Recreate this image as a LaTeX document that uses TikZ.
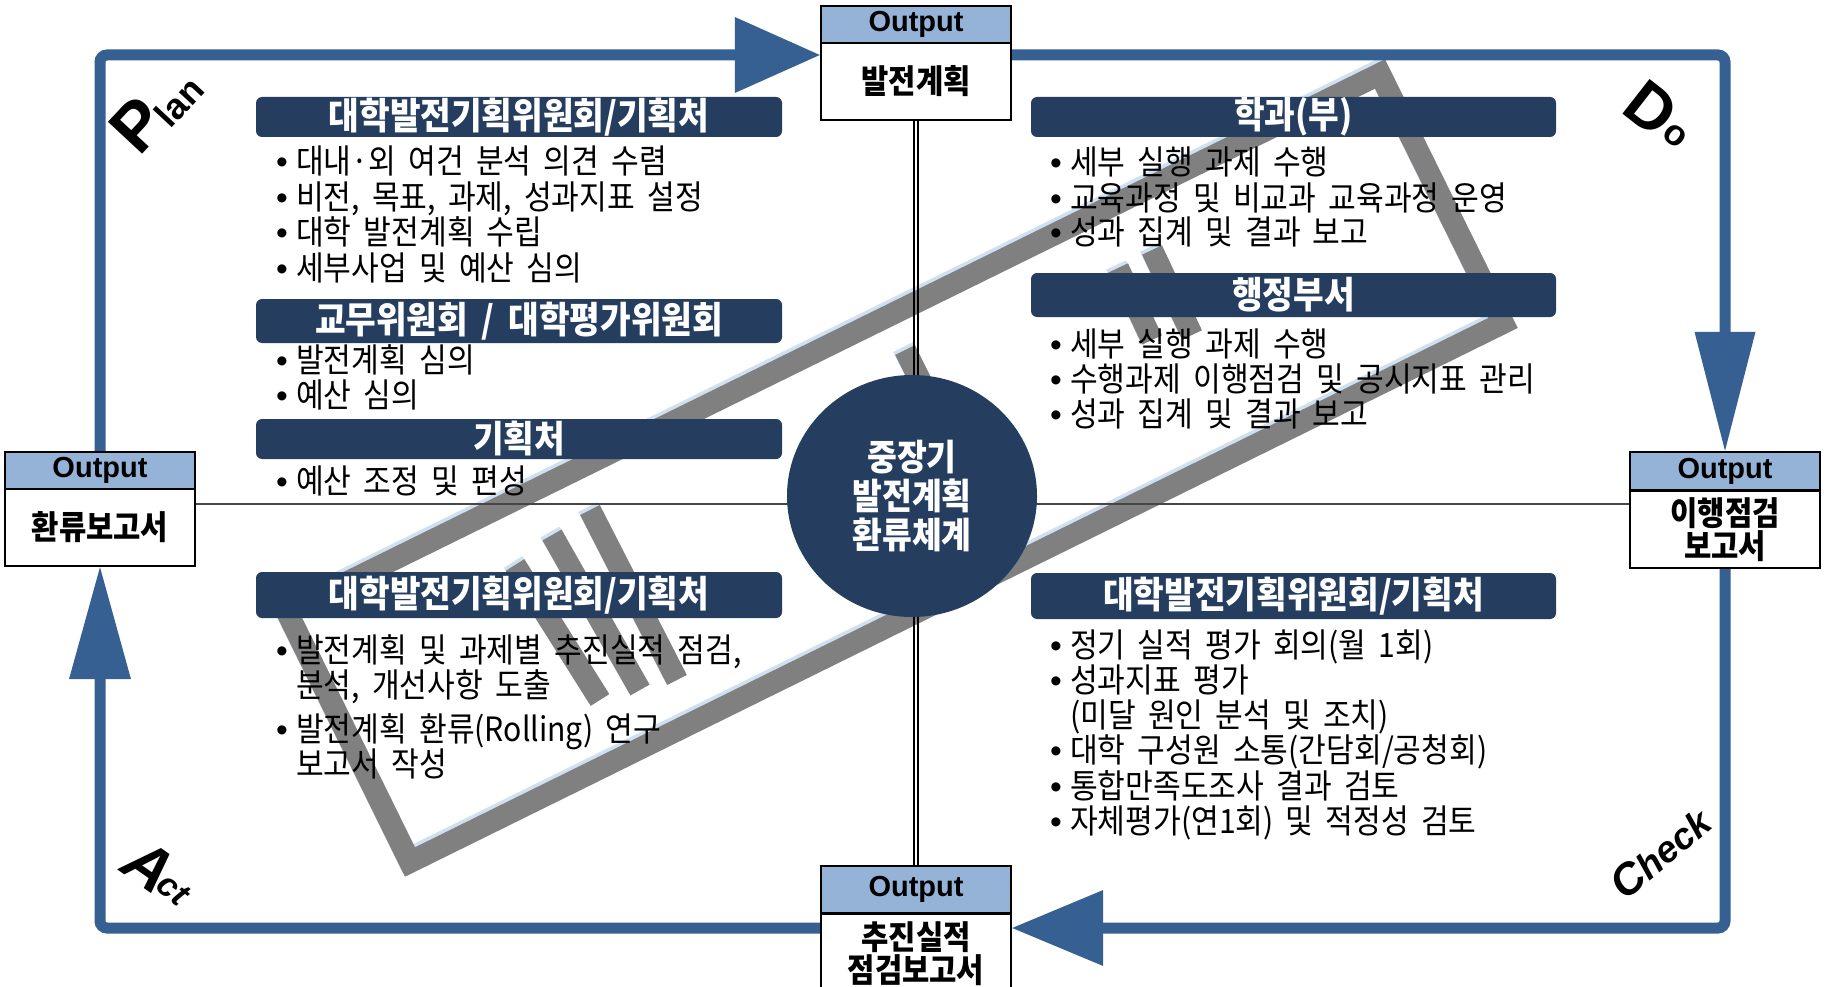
\documentclass[tikz,border=0pt]{standalone}
\usepackage{fontspec}
\setmainfont{Noto Sans CJK KR}[WordSpace=1.8, FakeStretch=0.9]
\newfontfamily\lat{Liberation Sans}
\usetikzlibrary{arrows.meta,shapes.geometric}
\definecolor{frameblue}{RGB}{54,96,146}
\definecolor{navy}{RGB}{37,62,96}
\definecolor{outblue}{RGB}{149,179,215}
\definecolor{wmgray}{RGB}{128,128,128}
\definecolor{wmglow}{RGB}{208,224,240}
\definecolor{axisgray}{RGB}{70,70,70}
\newcommand\bl[3]{\node[btext] (#1) at #2 {\makebox[20pt][l]{\lat •}#3};}
\begin{document}
\begin{tikzpicture}[x=1pt,y=-1pt,
  loopline/.style={line width=11pt, draw=frameblue, rounded corners=7pt},
  hdr/.style={rectangle, rounded corners=6pt, fill=navy, text=white, inner sep=0pt, font=\bfseries\fontsize{37}{37}\selectfont},
  btext/.style={anchor=base west, inner sep=0pt, font=\fontsize{33.5}{33.5}\selectfont},
  obox/.style={rectangle, draw=black, line width=2.4pt, fill=outblue, minimum width=190pt, inner sep=0pt, font=\lat\bfseries\fontsize{29}{29}\selectfont},
  wbox/.style={rectangle, draw=black, line width=2.4pt, fill=white, minimum width=190pt, inner sep=0pt, align=center, font=\bfseries\fontsize{33}{33}\selectfont},
  wm/.style={line width=22pt, draw=wmgray, line join=miter},
  wmg/.style={line width=22pt, draw=wmglow, line join=miter},
  hline/.style={line width=2pt, draw=axisgray},
  vline/.style={line width=1.3pt, draw=black},
  pdca/.style={inner sep=0pt},
]
\useasboundingbox (0,0) rectangle (1829,987);
\clip (0,0) rectangle (1829,987);
\fill[white] (0,0) rectangle (1829,987);

% watermark stamp
\begin{scope}[shift={(-2,-3)}]
  \draw[wmg] (410,862) -- (287,612) -- (1380,74) -- (1503,323) -- cycle;
  \draw[wmg] (515,565) -- (600,700);
  \draw[wmg] (552,535) -- (640,690);
  \draw[wmg] (590,510) -- (677,680);
  \draw[wmg] (1118,268) -- (1152,340);
  \draw[wmg] (1152,250) -- (1192,335);
  \draw[wmg] (905,350) -- (950,440);
\end{scope}
\draw[wm] (410,862) -- (287,612) -- (1380,74) -- (1503,323) -- cycle;
\draw[wm] (515,565) -- (600,700);
\draw[wm] (552,535) -- (640,690);
\draw[wm] (590,510) -- (677,680);
\draw[wm] (1118,268) -- (1152,340);
\draw[wm] (1152,250) -- (1192,335);
\draw[wm] (905,350) -- (950,440);

% output boxes (for anchors)
\node[obox, minimum height=37pt] (tbh) at (916,24.5) {Output};
\node[wbox, minimum height=77pt] (tbb) at (916,81.5) {발전계획};
\node[obox, minimum height=37pt] (lbh) at (100,470.5) {Output};
\node[wbox, minimum height=77pt] (lbb) at (100,527.5) {환류보고서};
\node[obox, minimum height=38pt] (rbh) at (1725,471) {Output};
\node[wbox, minimum height=77pt] (rbb) at (1725,528.5) {이행점검\\보고서};
\node[obox, minimum height=47pt] (bbh) at (916,889.5) {Output};
\node[wbox, minimum height=100pt, anchor=north] (bbb) at (916,913) {};

% axis lines
\coordinate (hl) at (0,504);
\draw[hline] (lbb.east|-hl) -- (rbb.west|-hl);
\draw[vline] ([xshift=-2pt]tbb.south) -- ([xshift=-2pt]bbh.north);
\draw[vline] ([xshift=2pt]tbb.south) -- ([xshift=2pt]bbh.north);

% PDCA loop
\coordinate (ctl) at (100,55);
\coordinate (ctr) at (1725,55);
\coordinate (cbr) at (1725,928);
\coordinate (cbl) at (100,928);
\draw[loopline, -{Triangle[length=85pt,width=76pt,line width=0pt]}] (lbh.north) -- (ctl) -- (tbb.west|-ctl);
\draw[loopline, -{Triangle[length=119pt,width=61pt,line width=0pt]}] (tbb.east|-ctr) -- (ctr) -- (rbh.north);
\draw[loopline, -{Triangle[length=91pt,width=76pt,line width=0pt]}] (rbb.south) -- (cbr) -- (bbb.east|-cbr);
\draw[loopline, -{Triangle[length=112pt,width=62pt,line width=0pt]}] (bbb.west|-cbl) -- (cbl) -- (lbb.south);

% boxes on top of loop
\node[obox, minimum height=37pt] (tbh2) at (916,24.5) {Output};
\node[wbox, minimum height=77pt] (tbb2) at (916,81.5) {발전계획};
\node[obox, minimum height=37pt] (lbh2) at (100,470.5) {Output};
\node[wbox, minimum height=77pt] (lbb2) at (100,527.5) {환류보고서};
\node[obox, minimum height=38pt] (rbh2) at (1725,471) {Output};
\node[wbox, minimum height=77pt] (rbb2) at (1725,529.5) {이행점검\\보고서};
\node[obox, minimum height=47pt] (bbh2) at (916,889.5) {Output};
\node[wbox, minimum height=100pt, anchor=north] (bbb2) at (916,913) {};
\node[inner sep=0pt, align=center, font=\bfseries\fontsize{33}{33}\selectfont] (bbt) at (916,953.5) {추진실적\\점검보고서};

% centre
\node[ellipse, fill=navy, minimum width=250pt, minimum height=242pt, inner sep=0pt, text=white, align=center, font=\bfseries\fontsize{36}{39}\selectfont] (core) at (912,496) {중장기\\발전계획\\환류체계};

% headers
\node[hdr, minimum width=526pt, minimum height=40pt] (ph1) at (519,117) {대학발전기획위원회/기획처};
\node[hdr, minimum width=526pt, minimum height=44pt] (ph2) at (519,321) {교무위원회 / 대학평가위원회};
\node[hdr, minimum width=526pt, minimum height=40pt] (ph3) at (519,439) {기획처};
\node[hdr, minimum width=526pt, minimum height=46pt] (ah1) at (519,595) {대학발전기획위원회/기획처};
\node[hdr, minimum width=525pt, minimum height=40pt] (dh1) at (1293.5,117) {학과(부)};
\node[hdr, minimum width=525pt, minimum height=44pt] (dh2) at (1293.5,295) {행정부서};
\node[hdr, minimum width=525pt, minimum height=46pt] (ch1) at (1293.5,596) {대학발전기획위원회/기획처};

% Plan text
\bl{p1}{(276,174)}{대내·외 여건 분석 의견 수렴}
\bl{p2}{(276,210)}{비전, 목표, 과제, 성과지표 설정}
\bl{p3}{(276,245)}{대학 발전계획 수립}
\bl{p4}{(276,280)}{세부사업 및 예산 심의}
\bl{p5}{(276,372)}{발전계획 심의}
\bl{p6}{(276,407)}{예산 심의}
\bl{p7}{(276,493)}{예산 조정 및 편성}
% Do text
\bl{d1}{(1050,175)}{세부 실행 과제 수행}
\bl{d2}{(1050,211)}{교육과정 및 비교과 교육과정 운영}
\bl{d3}{(1050,245)}{성과 집계 및 결과 보고}
\bl{d4}{(1050,356)}{세부 실행 과제 수행}
\bl{d5}{(1050,391)}{수행과제 이행점검 및 공시지표 관리}
\bl{d6}{(1050,426)}{성과 집계 및 결과 보고}
% Act text
\bl{a1}{(276,662)}{발전계획 및 과제별 추진실적 점검,}
\node[btext] (a1b) at (296,697) {분석, 개선사항 도출};
\bl{a2}{(276,741)}{발전계획 환류(Rolling) 연구}
\node[btext] (a2b) at (296,776) {보고서 작성};
% Check text
\bl{c1}{(1050,657)}{정기 실적 평가 회의(월 1회)}
\bl{c2}{(1050,692)}{성과지표 평가}
\node[btext] (c2b) at (1070,727) {(미달 원인 분석 및 조치)};
\bl{c3}{(1050,762)}{대학 구성원 소통(간담회/공청회)}
\bl{c4}{(1050,798)}{통합만족도조사 결과 검토}
\bl{c5}{(1050,833)}{자체평가(연1회) 및 적정성 검토}

% PDCA labels
\node[pdca, rotate=47, font=\lat\bfseries\fontsize{68}{68}\selectfont] (planP) at (138,125) {P};
\node[pdca, rotate=47, font=\lat\bfseries\fontsize{36}{36}\selectfont] (planL) at (179,102) {lan};
\node[pdca, rotate=-38, font=\lat\bfseries\fontsize{64}{64}\selectfont] (doD) at (1651,108) {D};
\node[pdca, rotate=-38, font=\lat\bfseries\fontsize{36}{36}\selectfont] (doO) at (1675,136) {o};
\node[pdca, rotate=-35, font=\lat\bfseries\itshape\fontsize{62}{62}\selectfont] (actA) at (149,866) {A};
\node[pdca, rotate=-39, font=\lat\bfseries\itshape\fontsize{34}{34}\selectfont] (actC) at (173,890) {ct};
\node[pdca, rotate=40, font=\lat\bfseries\itshape\fontsize{37}{37}\selectfont] (check) at (1660,853) {{\fontsize{44}{44}\selectfont C}heck};
\end{tikzpicture}
\end{document}
